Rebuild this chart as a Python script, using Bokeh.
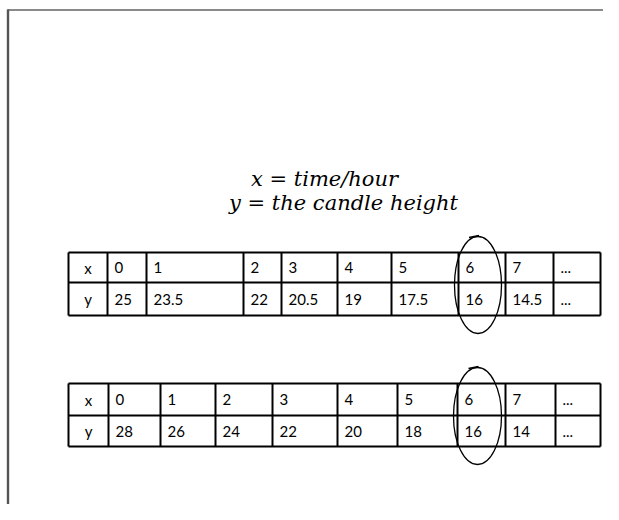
from bokeh.plotting import figure
from bokeh.models import Range1d, ColumnDataSource
from bokeh.core.properties import value
from bokeh.embed import file_html
from bokeh.resources import INLINE

# ---------------- data ----------------
row_headers = ["x", "y"]
x_labels = ["0", "1", "2", "3", "4", "5", "6", "7", "..."]
y_values_1 = ["25", "23.5", "22", "20.5", "19", "17.5", "16", "14.5", "..."]
y_values_2 = ["28", "26", "24", "22", "20", "18", "16", "14", "..."]
title_lines = ["x = time/hour", "y = the candle height"]
circled_label = "6"

# ---------------- layout (pixels) ----------------
W, H = 603, 504
T1_EDGES = [68, 107, 146, 243, 281, 337, 391, 458, 505, 553, 600]
T1_ROWS = [252, 282, 315]
T2_EDGES = [68, 108, 160, 215, 272, 337, 397, 457, 505, 555, 600]
T2_ROWS = [383, 415, 446]
TITLE_X = [324, 343]
TITLE_Y = [178, 202]
PAD = 7

p = figure(width=W, height=H, output_backend="svg", toolbar_location=None,
           x_range=Range1d(0, W), y_range=Range1d(H, 0),
           x_axis_location=None, y_axis_location=None, min_border=0,
           background_fill_color="white", border_fill_color="white")
p.outline_line_color = None
p.xgrid.visible = False
p.ygrid.visible = False

# page frame (scanned page edge)
p.segment(x0=[7], y0=[9.5], x1=[W], y1=[9.5], line_color="#8a8a8a", line_width=2)
p.segment(x0=[7.5], y0=[9], x1=[7.5], y1=[H], line_color="#555555", line_width=2.4)

# title lines
p.text(x=TITLE_X, y=TITLE_Y, text=title_lines, text_align="center", text_baseline="middle",
       text_font=value("DejaVu Serif"), text_font_style="italic", text_font_size="21px",
       text_color="black")


def draw_table(edges, rows, values):
    left, right = edges[0], edges[-1]
    top, bottom = rows[0], rows[-1]
    p.segment(x0=[left] * len(rows), y0=rows, x1=[right] * len(rows), y1=rows,
              line_color="black", line_width=2)
    p.segment(x0=edges, y0=[top] * len(edges), x1=edges, y1=[bottom] * len(edges),
              line_color="black", line_width=2)
    rows_text = [[row_headers[0]] + x_labels, [row_headers[1]] + values]
    xs, ys, ts, al = [], [], [], []
    for r, cells in enumerate(rows_text):
        yc = (rows[r] + rows[r + 1]) / 2
        for c, t in enumerate(cells):
            if c == 0:
                xs.append((edges[c] + edges[c + 1]) / 2)
                al.append("center")
            else:
                xs.append(edges[c] + PAD)
                al.append("left")
            ys.append(yc)
            ts.append(t)
    src = ColumnDataSource(dict(x=xs, y=ys, text=ts, align=al))
    p.text(x="x", y="y", text="text", text_align="align", text_baseline="middle",
           text_font=value("Lato"), text_font_size="15px", text_color="black", source=src)
    # hand-drawn loop around the circled column
    ci = x_labels.index(circled_label) + 1
    cx = (edges[ci] + edges[ci + 1]) / 2 - 4
    cy = (top + bottom) / 2 + 1
    h = bottom - top + 34
    p.ellipse(x=[cx], y=[cy], width=[edges[ci + 1] - edges[ci]], height=[h],
              fill_color=None, line_color="black", line_width=1.3)
    # small pen tick where the loop starts
    p.segment(x0=[cx - 9], y0=[cy - h / 2 + 1], x1=[cx + 1], y1=[cy - h / 2 - 1],
              line_color="black", line_width=1.3)


draw_table(T1_EDGES, T1_ROWS, y_values_1)
draw_table(T2_EDGES, T2_ROWS, y_values_2)

open("out.html", "w").write(file_html(p, INLINE))
